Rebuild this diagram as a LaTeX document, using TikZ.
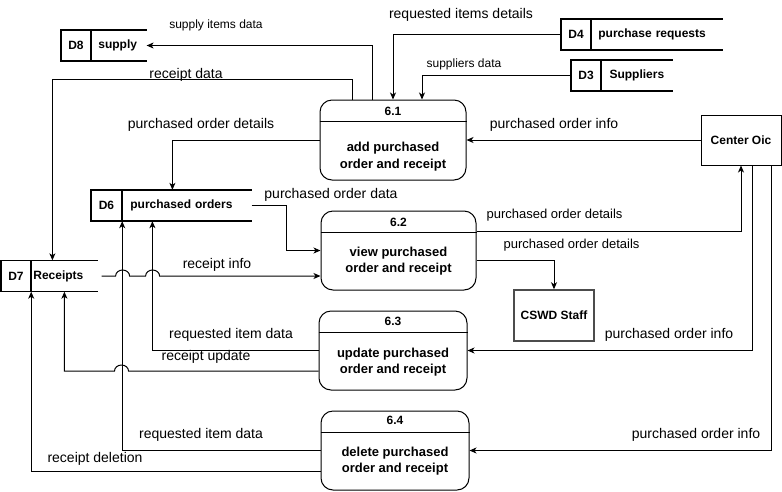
\documentclass[tikz,border=0pt]{standalone}
\usepackage{fontspec}
\setmainfont{Liberation Sans}
\usetikzlibrary{positioning,arrows.meta}

\begin{document}
\begin{tikzpicture}[x=1pt,y=-1pt,
    proc/.style={draw,line width=1pt,rounded corners=12pt},
    pnum/.style={inner sep=0pt,font=\fontsize{12}{14}\selectfont\bfseries},
    pbody/.style={inner sep=0pt,align=center,font=\fontsize{13}{16.5}\selectfont\bfseries},
    storeid/.style={minimum width=30pt,minimum height=31pt,inner sep=0pt,font=\fontsize{12}{14}\selectfont\bfseries},
    storelbl/.style={minimum height=31pt,inner ysep=0pt,font=\fontsize{12}{14}\selectfont\bfseries},
    storeline/.style={line width=1.5pt},
    ent/.style={draw,line width=1pt,minimum width=80pt,minimum height=50pt,inner sep=0pt,font=\fontsize{12}{14}\selectfont\bfseries},
    flow/.style={line width=1pt,-{Stealth[length=7pt,width=6pt,inset=2pt]}},
    lbl/.style={inner sep=0pt,font=\fontsize{14}{16}\selectfont},
    mlbl/.style={inner sep=0pt,font=\fontsize{13}{15}\selectfont},
    slbl/.style={inner sep=0pt,font=\fontsize{12}{14}\selectfont}]
  \useasboundingbox (0,0) rectangle (782,491);
  %processi
  \node[proc,minimum width=146pt,minimum height=80pt] (p1) at (393,140) {};
  \node[proc,minimum width=155pt,minimum height=79pt] (p2) at (398.5,250.5) {};
  \node[proc,minimum width=148pt,minimum height=79pt] (p3) at (393,350.5) {};
  \node[proc,minimum width=148pt,minimum height=79pt] (p4) at (395,450.5) {};
  \foreach \p in {p1,p2,p3,p4}
    \draw[line width=1pt] ([yshift=-22pt]\p.north west) -- ([yshift=-22pt]\p.north east);
  \node[pnum,below=7pt of p1.north] (n1) {6.1};
  \node[pnum,below=7pt of p2.north] (n2) {6.2};
  \node[pnum,below=6pt of p3.north] (n3) {6.3};
  \node[pnum,below=5.5pt of p4.north] (n4) {6.4};
  \node[pbody,below=42.5pt of p1.north] (b1) {add purchased\\order and receipt};
  \node[pbody,below=36pt of p2.north] (b2) {view purchased\\order and receipt};
  \node[pbody,below=37pt of p3.north] (b3) {update purchased\\order and receipt};
  \node[pbody,below=36pt of p4.north] (b4) {delete purchased\\order and receipt};
  %archivi
  \node[storeid] (i8) at (76,45.5) {D8};
  \node[storelbl,inner xsep=7pt,text width=41pt,align=left,right=0pt of i8] (d8) {supply};
  \node[storeid] (i4) at (576,34.5) {D4};
  \node[storelbl,inner xsep=7pt,text width=117pt,align=left,right=0pt of i4] (d4) {purchase requests};
  \node[storeid] (i3) at (586,75.5) {D3};
  \node[storelbl,inner xsep=0pt,minimum width=71pt,right=0pt of i3] (d3) {Suppliers};
  \node[storeid,minimum width=31pt] (i6) at (106.5,205.5) {D6};
  \node[storelbl,inner xsep=8pt,text width=113pt,align=left,right=0pt of i6] (d6) {purchased orders};
  \node[storeid] (i7) at (16,276) {D7};
  \node[storelbl,inner xsep=2pt,text width=62pt,align=left,right=0pt of i7] (d7) {Receipts};
  \foreach \s/\i in {d8/i8,d4/i4,d3/i3,d6/i6,d7/i7}
    \draw[storeline] (\s.north east) -- (\i.north west) -- (\i.south west) -- (\s.south east)
      (\i.north east) -- (\i.south east);
  %entita
  \node[ent] (oic) at (741,140) {Center Oic};
  \node[ent,draw=black!70,line width=1.5pt,minimum height=51pt] (cswd) at (554,315.5) {CSWD Staff};
  %flussi
  \draw[flow] ([xshift=-21pt]p1.north) |- (d8.east);
  \draw[flow] ([xshift=-41pt]p1.north) -- ++(0,-20) -| ([xshift=-12pt]d7.north);
  \draw[flow] (i4.west) -| (p1.north);
  \draw[flow] (i3.west) -| ([xshift=29pt]p1.north);
  \draw[flow] (oic.west) -- (p1.east);
  \draw[flow] (p1.west) -| ([xshift=-14.5pt]d6.north);
  \draw[flow] (d6.east) -- ++(35,0) |- (p2.west);
  \draw[flow] ([yshift=19.5pt]p2.east) -| (oic.south);
  \draw[flow] ([yshift=-9.5pt]p2.east) -| (cswd.north);
  \draw[flow] ([xshift=11pt]oic.south) |- (p3.east);
  \draw[flow] ([xshift=30pt]oic.south) |- (p4.east);
  \draw[flow] ([xshift=4pt]d7.east) -- ++(14,0) arc[start angle=180,end angle=0,x radius=7pt,y radius=6pt]
    -- ++(16,0) arc[start angle=180,end angle=0,x radius=7pt,y radius=6pt] -- ([yshift=-25.5pt]p2.west);
  \draw[flow] (p3.west) -| ([xshift=-34.5pt]d6.south);
  \draw[flow] ([yshift=-20.5pt]p3.west) -- ++(-190,0) arc[start angle=0,end angle=180,x radius=7pt,y radius=6pt] -| (d7.south);
  \draw[flow] (p4.west) -| (i6.south east);
  \draw[flow] ([yshift=-20.5pt]p4.west) -| (i7.south east);
  %etichette
  \node[slbl] (lsupply) at (216,25) {supply items data};
  \node[lbl] (lreq) at (461,15) {requested items details};
  \node[slbl] (lsupp) at (464,64) {suppliers data};
  \node[lbl] (lrdata) at (186,75) {receipt data};
  \node[lbl] (lpod1) at (201,125) {purchased order details};
  \node[lbl] (lpoi1) at (554,125) {purchased order info};
  \node[lbl] (lpodata) at (331,195) {purchased order data};
  \node[mlbl] (lpod2) at (554.5,215) {purchased order details};
  \node[mlbl] (lpod3) at (571.5,245) {purchased order details};
  \node[lbl] (lrinfo) at (217,265) {receipt info};
  \node[lbl] (lrid1) at (231,335) {requested item data};
  \node[lbl] (lpoi2) at (669,335) {purchased order info};
  \node[lbl] (lrupd) at (206,357) {receipt update};
  \node[lbl] (lrid2) at (201,435) {requested item data};
  \node[lbl] (lpoi3) at (696,435) {purchased order info};
  \node[lbl] (lrdel) at (95,459) {receipt deletion};
\end{tikzpicture}
\end{document}
